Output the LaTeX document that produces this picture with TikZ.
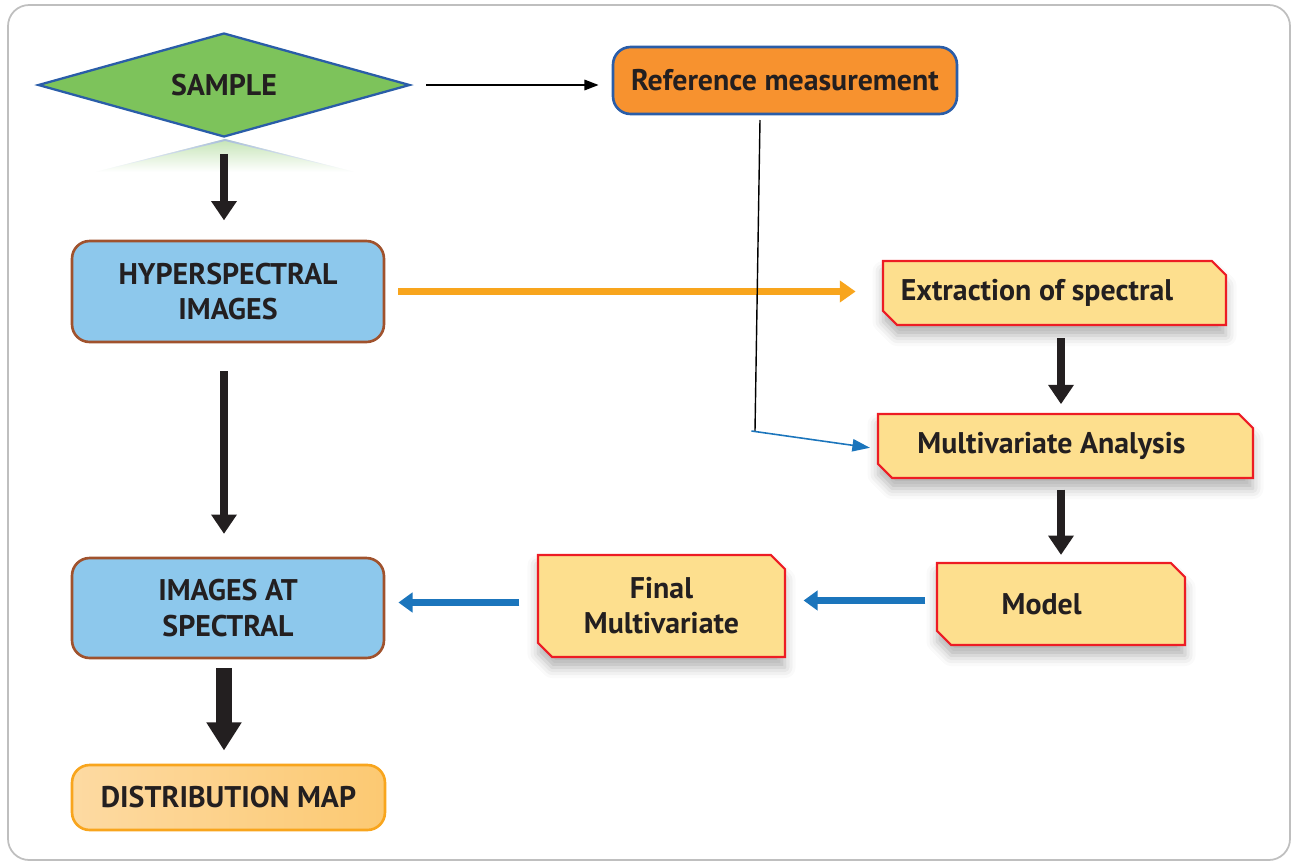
\documentclass[tikz,border=0pt]{standalone}
\usepackage{fontspec}
\setmainfont{PT Sans}
\usetikzlibrary{shapes.geometric,shapes.misc,arrows.meta,shadows.blur}

\definecolor{samplegreen}{HTML}{7DC35B}
\definecolor{lineblue}{HTML}{2A5DA8}
\definecolor{reforange}{HTML}{F7922F}
\definecolor{hyperblue}{HTML}{8DC8EC}
\definecolor{hyperbrown}{HTML}{A0522D}
\definecolor{stepyellow}{HTML}{FDDF8E}
\definecolor{stepred}{HTML}{ED1C24}
\definecolor{arrowblue}{HTML}{1B75BC}
\definecolor{arroworange}{HTML}{F8A51D}
\definecolor{mapleft}{HTML}{FDDAA2}
\definecolor{mapright}{HTML}{FCC972}
\definecolor{txt}{HTML}{231F20}

\tikzset{
  lbl/.style={font=\bfseries\fontsize{17}{20}\selectfont, text=txt, align=center, inner sep=0pt},
  rbox/.style={lbl, draw, rounded corners=10pt, line width=1.5pt},
  snipbox/.style={lbl, chamfered rectangle, chamfered rectangle corners={north east,south west},
    chamfered rectangle sep=4pt, draw=stepred, fill=stepyellow, line width=1.2pt,
    blur shadow={shadow xshift=0pt, shadow yshift=-6pt, shadow blur radius=6pt, shadow opacity=30}},
  bigarrow/.style={draw=txt, line width=4.5pt, -{Triangle[width=14pt,length=11pt]}},
  bluearrow/.style={draw=arrowblue, line width=4pt, -{Triangle[width=11pt,length=8pt]}},
}

\begin{document}
\begin{tikzpicture}[x=0.02cm, y=-0.02cm]
	\useasboundingbox (0,0) rectangle (1296,863);
	\draw[black!25, line width=1pt, rounded corners=12pt] (8,5) rectangle (1290,860);

	% reflection under the sample
	\shade[top color=samplegreen!45, bottom color=white] (225,139) -- (355,172) -- (95,172) -- cycle;
	\shade[left color=white, right color=lineblue!40] (95,172) -- (225,139) -- (225,141) -- cycle;
	\shade[left color=lineblue!40, right color=white] (225,139) -- (355,172) -- (225,141) -- cycle;

	\node[lbl, diamond, aspect=3.58, draw=lineblue, fill=samplegreen, line width=1.3pt,
	  minimum width=7.44cm, minimum height=2.08cm] (sample) at (224,85) {\raisebox{-2pt}{SAMPLE}};
	\node[rbox, draw=lineblue, fill=reforange, minimum width=6.88cm, minimum height=1.34cm] (ref) at (785,80.5) {Reference measurement};

	\node[rbox, draw=hyperbrown, fill=hyperblue, minimum width=6.24cm, minimum height=2.02cm] (hyper) at (228,291.5) {HYPERSPECTRAL\\IMAGES};
	\node[rbox, draw=hyperbrown, fill=hyperblue, minimum width=6.24cm, minimum height=2cm] (images) at (228,608) {IMAGES AT\\SPECTRAL};
	\node[rbox, draw=arroworange, left color=mapleft, right color=mapright,
	  minimum width=6.26cm, minimum height=1.3cm] (dist) at (228.5,797.5) {DISTRIBUTION MAP};

	\node[snipbox, minimum width=6.86cm, minimum height=1.28cm] (extr) at (1054.5,293) {Extraction of spectral\hspace{20pt}};
	\node[snipbox, minimum width=7.5cm, minimum height=1.28cm] (multi) at (1065.5,446) {Multivariate Analysis\hspace{16pt}};
	\node[snipbox, minimum width=4.96cm, minimum height=1.64cm] (model) at (1061,604) {Model\hspace{22pt}};
	\node[snipbox, minimum width=4.94cm, minimum height=2.04cm] (final) at (661.5,606) {Final\\Multivariate};

	% arrows
	\draw[bigarrow] ([yshift=-9pt]sample.south) -- ([yshift=11pt]hyper.north -| sample.south);
	\draw[bigarrow] ([yshift=-16pt]hyper.south -| sample.south) -- ([yshift=13pt]images.north -| sample.south);
	\draw[draw=txt, line width=9pt, -{Triangle[width=19pt,length=16pt]}] ([yshift=-5pt]images.south -| sample.south) -- ([yshift=7.5pt]dist.north -| sample.south);
	\draw[bigarrow] ([yshift=-7pt]extr.south -| model.north) -- ([yshift=5pt]multi.north -| model.north);
	\draw[bigarrow] ([yshift=-6pt]multi.south -| model.north) -- ([yshift=4pt]model.north);
	\draw[bluearrow] ([xshift=-6pt,yshift=2pt]model.west) -- ([xshift=10pt,yshift=2pt]model.west -| final.east);
	\draw[bluearrow] ([xshift=-10pt,yshift=2pt]final.west) -- ([xshift=7.5pt,yshift=2pt]final.west -| images.east);
	\draw[draw=arroworange, line width=4.5pt, -{Triangle[width=12pt,length=9pt]}] ([xshift=7.5pt]hyper.east) -- ([xshift=-15pt]hyper.east -| extr.west);
	\draw[black, line width=0.8pt, -{Triangle[width=6pt,length=8pt]}] ([xshift=8.5pt]sample.east) -- ([xshift=-7.5pt]sample.east -| ref.west);

	\coordinate (reftop) at (760,120);
	\coordinate (bend) at (755,431);
	\draw[black, line width=0.8pt] (reftop) -- (bend);
	\draw[arrowblue, line width=0.9pt, -{Triangle[width=7pt,length=10pt]}] ([xshift=-2pt]bend) -- ([xshift=-4pt, yshift=-1pt]multi.west);
\end{tikzpicture}
\end{document}
